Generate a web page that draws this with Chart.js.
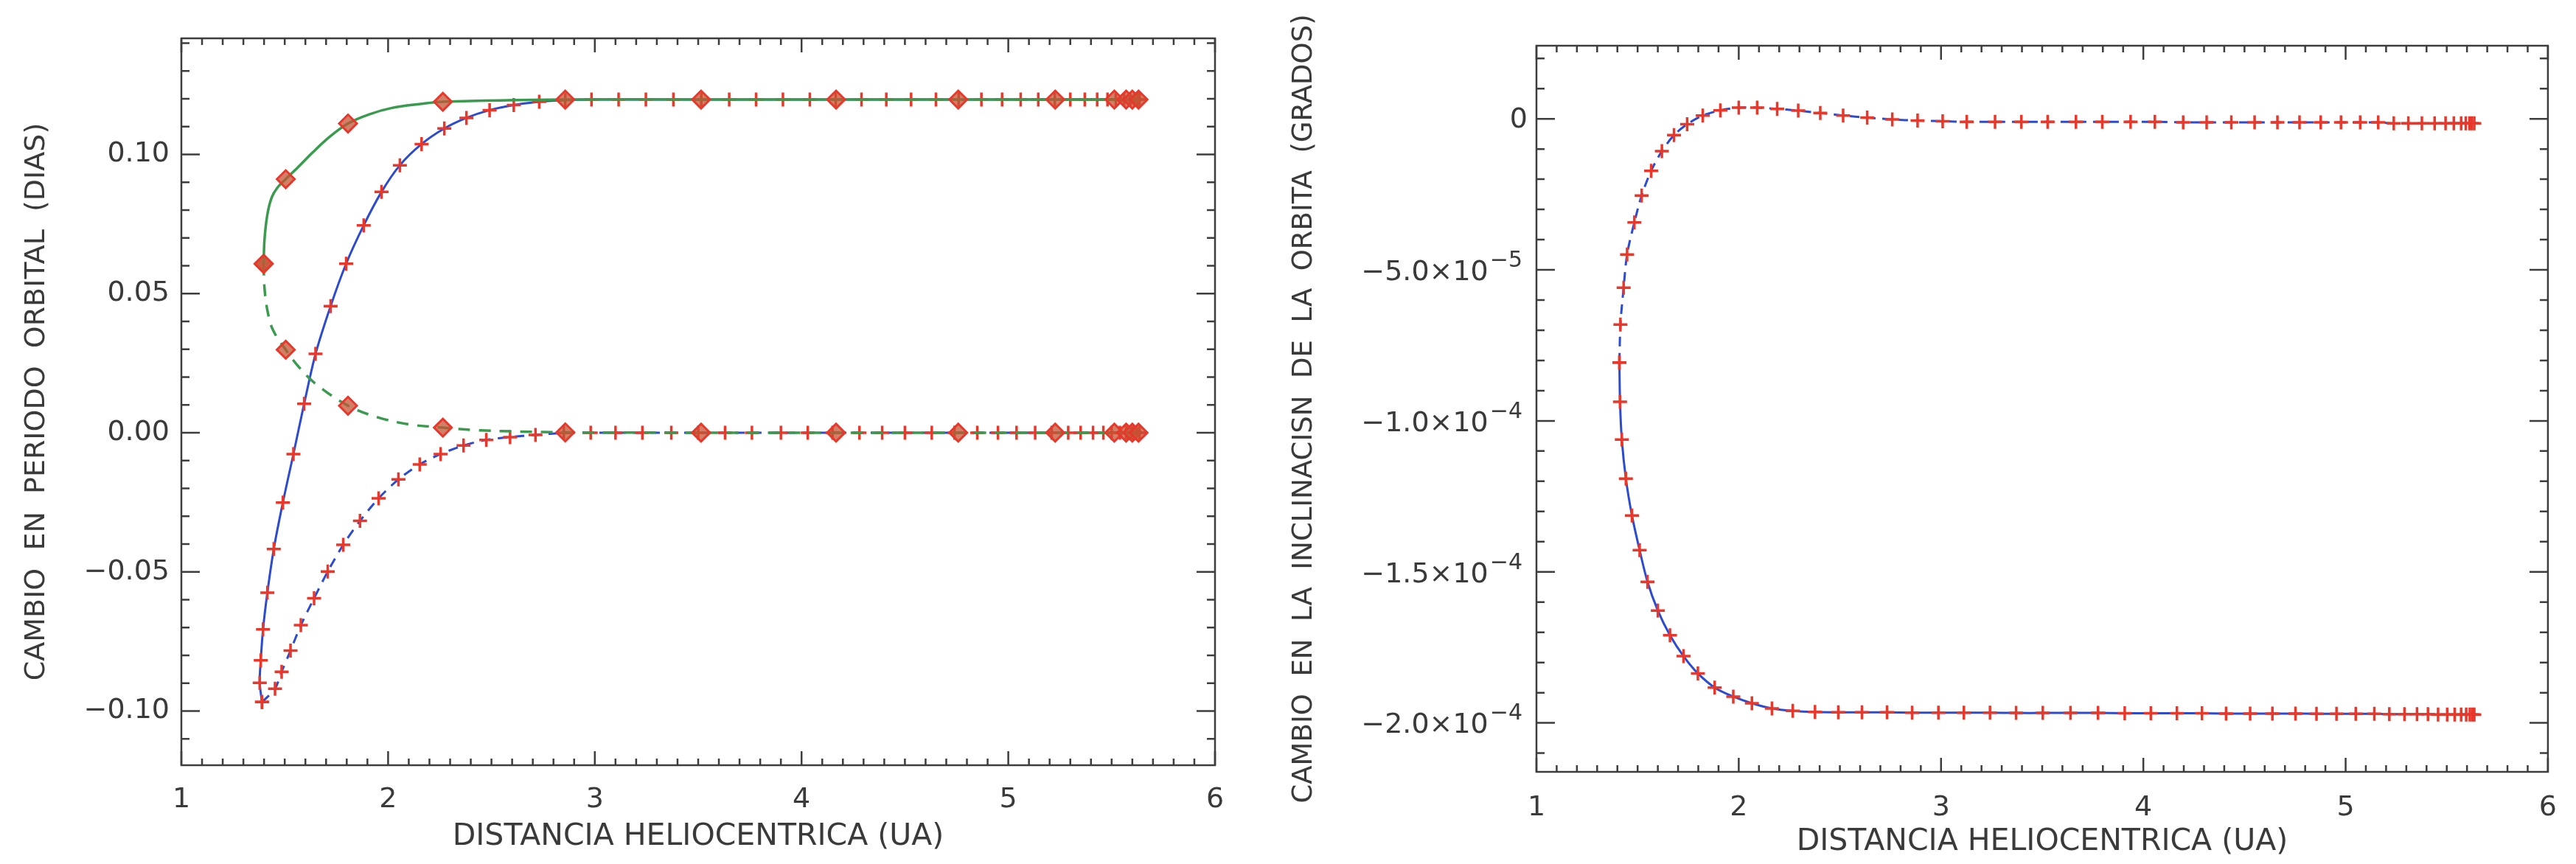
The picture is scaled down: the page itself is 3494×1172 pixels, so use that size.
<!DOCTYPE html>
<html>
<head>
<meta charset="utf-8">
<script src="https://cdn.jsdelivr.net/npm/chart.js@4.4.1/dist/chart.umd.min.js"></script>
<style>
  html, body { margin: 0; padding: 0; background: #fff; }
  body { width: 3494px; height: 1172px; position: relative; overflow: hidden; }
  canvas { position: absolute; top: 0; }
  #periodoChart { left: 0; }
  #inclChart { left: 1700px; }
</style>
</head>
<body>
<canvas id="periodoChart" width="1700" height="1172"></canvas>
<canvas id="inclChart" width="1794" height="1172"></canvas>
<script>
// ---- datos ----
var distTicks = [1, 2, 3, 4, 5, 6];
var periodoTicks = [-0.10, -0.05, 0.00, 0.05, 0.10];
var inclTicks = [-2.0e-4, -1.5e-4, -1.0e-4, -5.0e-5, 0];

// periodo: curva azul continua
var periodoSolX = [1.390, 1.379, 1.384, 1.395, 1.416, 1.447, 1.491, 1.542, 1.594, 1.649, 1.722, 1.797, 1.882, 1.968, 2.057, 2.162, 2.272, 2.379, 2.491, 2.608, 2.731, 2.857, 2.984, 3.115, 3.247, 3.380, 3.515, 3.650, 3.780, 3.910, 4.040, 4.165, 4.290, 4.410, 4.530, 4.650, 4.760, 4.870, 4.970, 5.060, 5.145, 5.225, 5.300, 5.370, 5.430, 5.480, 5.520, 5.560, 5.590, 5.610, 5.625, 5.635];
var periodoSolY = [-0.0968, -0.0899, -0.0818, -0.0707, -0.0575, -0.0418, -0.0251, -0.0077, 0.0104, 0.0283, 0.0455, 0.0607, 0.0745, 0.0865, 0.0961, 0.1037, 0.1093, 0.1131, 0.1159, 0.1177, 0.1189, 0.1195, 0.1197, 0.1197, 0.1197, 0.1197, 0.1197, 0.1197, 0.1197, 0.1197, 0.1197, 0.1197, 0.1197, 0.1197, 0.1197, 0.1197, 0.1197, 0.1197, 0.1197, 0.1197, 0.1197, 0.1197, 0.1197, 0.1197, 0.1197, 0.1197, 0.1197, 0.1197, 0.1197, 0.1197, 0.1197, 0.1197];

// periodo: curva azul discontinua
var periodoDisX = [1.390, 1.453, 1.485, 1.528, 1.578, 1.642, 1.708, 1.783, 1.864, 1.954, 2.050, 2.153, 2.254, 2.365, 2.475, 2.590, 2.713, 2.850, 2.980, 3.100, 3.230, 3.370, 3.500, 3.630, 3.760, 3.900, 4.030, 4.150, 4.280, 4.390, 4.500, 4.630, 4.740, 4.850, 4.950, 5.040, 5.130, 5.210, 5.290, 5.350, 5.410, 5.460, 5.500, 5.540, 5.570, 5.600, 5.620, 5.635];
var periodoDisY = [-0.0968, -0.0920, -0.0859, -0.0783, -0.0692, -0.0595, -0.0499, -0.0403, -0.0317, -0.0236, -0.0168, -0.0114, -0.0077, -0.0046, -0.0026, -0.0016, -0.0008, -0.0001, 0, 0, 0, 0, 0, 0, 0, 0, 0, 0, 0, 0, 0, 0, 0, 0, 0, 0, 0, 0, 0, 0, 0, 0, 0, 0, 0, 0, 0, 0];

// periodo: curvas verdes (rombos en diamanteX)
var verdeSupX = [1.398, 1.402, 1.416, 1.437, 1.464, 1.505, 1.567, 1.635, 1.717, 1.806, 1.909, 2.019, 2.156, 2.265, 2.857, 3.514, 4.167, 4.758, 5.227, 5.513, 5.570, 5.600, 5.630];
var verdeSupY = [0.0607, 0.0693, 0.0784, 0.0845, 0.0880, 0.0911, 0.0956, 0.1007, 0.1063, 0.1111, 0.1144, 0.1167, 0.1181, 0.1189, 0.1197, 0.1197, 0.1197, 0.1197, 0.1197, 0.1197, 0.1197, 0.1197, 0.1197];
var verdeInfX = [1.398, 1.402, 1.416, 1.443, 1.505, 1.567, 1.649, 1.806, 1.950, 2.101, 2.265, 2.429, 2.635, 2.857, 3.514, 4.167, 4.758, 5.227, 5.513, 5.570, 5.600, 5.630];
var verdeInfY = [0.0607, 0.0521, 0.0440, 0.0369, 0.0298, 0.0237, 0.0176, 0.0097, 0.0055, 0.0030, 0.0018, 0.0009, 0.0004, 0.0001, 0, 0, 0, 0, 0, 0, 0, 0];
var diamanteX = [1.398, 1.505, 1.806, 2.265, 2.857, 3.514, 4.167, 4.758, 5.227, 5.513, 5.570, 5.600, 5.630];

// inclinacion: rama superior (discontinua) y rama inferior (continua)
var inclSupX = [1.410, 1.415, 1.431, 1.448, 1.484, 1.520, 1.567, 1.620, 1.680, 1.745, 1.822, 1.909, 2.000, 2.091, 2.190, 2.294, 2.403, 2.516, 2.635, 2.759, 2.884, 3.008, 3.127, 3.267, 3.397, 3.527, 3.667, 3.797, 3.937, 4.057, 4.197, 4.313, 4.435, 4.550, 4.663, 4.772, 4.877, 4.977, 5.072, 5.161, 5.238, 5.310, 5.377, 5.440, 5.494, 5.535, 5.571, 5.594, 5.612, 5.624, 5.636];
var inclSupY = [-8.07e-5, -6.81e-5, -5.59e-5, -4.49e-5, -3.43e-5, -2.54e-5, -1.72e-5, -1.07e-5, -5.4e-6, -1.8e-6, 1.1e-6, 2.8e-6, 3.7e-6, 3.7e-6, 3.3e-6, 2.7e-6, 1.9e-6, 1.1e-6, 4e-7, -2e-7, -6e-7, -8e-7, -1.0e-6, -1.0e-6, -1.0e-6, -1.0e-6, -1.0e-6, -1.0e-6, -1.0e-6, -1.0e-6, -1.2e-6, -1.2e-6, -1.2e-6, -1.2e-6, -1.2e-6, -1.2e-6, -1.2e-6, -1.2e-6, -1.2e-6, -1.2e-6, -1.5e-6, -1.5e-6, -1.5e-6, -1.5e-6, -1.5e-6, -1.5e-6, -1.5e-6, -1.5e-6, -1.5e-6, -1.5e-6, -1.5e-6];
var inclInfX = [1.410, 1.413, 1.422, 1.442, 1.472, 1.510, 1.549, 1.600, 1.660, 1.727, 1.798, 1.881, 1.973, 2.065, 2.164, 2.267, 2.377, 2.492, 2.609, 2.733, 2.857, 2.987, 3.113, 3.242, 3.371, 3.503, 3.640, 3.776, 3.908, 4.037, 4.166, 4.290, 4.409, 4.528, 4.638, 4.752, 4.856, 4.955, 5.050, 5.142, 5.216, 5.291, 5.353, 5.407, 5.457, 5.502, 5.539, 5.571, 5.596, 5.614, 5.626, 5.636];
var inclInfY = [-8.07e-5, -9.37e-5, -1.062e-4, -1.191e-4, -1.313e-4, -1.428e-4, -1.533e-4, -1.628e-4, -1.710e-4, -1.779e-4, -1.836e-4, -1.883e-4, -1.913e-4, -1.935e-4, -1.952e-4, -1.960e-4, -1.964e-4, -1.965e-4, -1.965e-4, -1.965e-4, -1.966e-4, -1.966e-4, -1.966e-4, -1.966e-4, -1.967e-4, -1.967e-4, -1.967e-4, -1.967e-4, -1.968e-4, -1.968e-4, -1.968e-4, -1.968e-4, -1.969e-4, -1.969e-4, -1.969e-4, -1.969e-4, -1.970e-4, -1.970e-4, -1.970e-4, -1.970e-4, -1.971e-4, -1.971e-4, -1.971e-4, -1.971e-4, -1.972e-4, -1.972e-4, -1.972e-4, -1.972e-4, -1.972e-4, -1.972e-4, -1.972e-4, -1.972e-4];

// ---- estilo ----
var TXT = '#3a3a3a';
var AZUL = '#2c4bd1';
var VERDE = '#3a9a4e';
var ROJO = '#e8382c';
var FAMILIA = 'DejaVu Sans';
var fuenteTick = { family: FAMILIA, size: 38 };
var fuenteTituloX = { family: FAMILIA, size: 41 };

function pares(xs, ys) {
    return xs.map(function (x, i) { return { x: x, y: ys[i] }; });
}

// marco con marcas hacia dentro en los cuatro lados
var marco = {
    id: 'marco',
    afterDatasetsDraw: function (chart, args, opts) {
        var ctx = chart.ctx, a = chart.chartArea;
        var sx = chart.scales.x, sy = chart.scales.y;
        ctx.save();
        ctx.strokeStyle = '#3d3d3d';
        ctx.lineWidth = 2.5;
        ctx.strokeRect(a.left, a.top, a.right - a.left, a.bottom - a.top);
        ctx.beginPath();
        function valores(scale, step) {
            var out = [];
            for (var k = Math.ceil(scale.min / step - 1e-6); k * step <= scale.max + step * 1e-6; k++) out.push(k * step);
            return out;
        }
        function esMayor(scale, v, step) {
            return scale.ticks.some(function (t) { return Math.abs(t.value - v) < step / 10; });
        }
        valores(sx, opts.xMinor).forEach(function (v) {
            var px = sx.getPixelForValue(v);
            var len = esMayor(sx, v, opts.xMinor) ? 19 : 9;
            ctx.moveTo(px, a.bottom); ctx.lineTo(px, a.bottom - len);
            ctx.moveTo(px, a.top); ctx.lineTo(px, a.top + len);
        });
        valores(sy, opts.yMinor).forEach(function (v) {
            var py = sy.getPixelForValue(v);
            var len = esMayor(sy, v, opts.yMinor) ? 25 : 11;
            ctx.moveTo(a.left, py); ctx.lineTo(a.left + len, py);
            ctx.moveTo(a.right, py); ctx.lineTo(a.right - len, py);
        });
        ctx.stroke();
        ctx.restore();
    }
};

// etiquetas del eje y en notacion cientifica con exponente elevado
var etiquetasExp = {
    id: 'etiquetasExp',
    afterDraw: function (chart) {
        var ctx = chart.ctx, a = chart.chartArea, sy = chart.scales.y;
        ctx.save();
        ctx.fillStyle = TXT;
        ctx.textBaseline = 'middle';
        sy.ticks.forEach(function (t) {
            var py = sy.getPixelForValue(t.value);
            var v = t.value;
            if (Math.abs(v) < 1e-12) {
                ctx.font = '38px "' + FAMILIA + '"';
                ctx.textAlign = 'right';
                ctx.fillText('0', a.left - 12, py + 2);
                return;
            }
            var parts = v.toExponential(1).split('e');
            var mant = parts[0].replace('-', '\u2212') + '\u00D710';
            var exp = String(Number(parts[1])).replace('-', '\u2212');
            var xr = a.left - 19;
            ctx.font = '30px "' + FAMILIA + '"';
            ctx.textAlign = 'right';
            ctx.fillText(exp, xr, py - 12);
            var ew = ctx.measureText(exp).width;
            ctx.font = '38px "' + FAMILIA + '"';
            ctx.fillText(mant, xr - ew - 2, py + 4);
        });
        ctx.restore();
    }
};

function ejeX(altura, pad) {
    return {
        type: 'linear', min: 1, max: 6,
        afterBuildTicks: function (s) { s.ticks = distTicks.map(function (v) { return { value: v }; }); },
        afterFit: function (s) { s.height = altura; },
        grid: { display: false, drawTicks: false },
        border: { display: false },
        ticks: { font: fuenteTick, color: TXT, padding: pad, maxRotation: 0, autoSkip: false },
        title: { display: true, text: 'DISTANCIA HELIOCENTRICA (UA)', font: fuenteTituloX, color: TXT, padding: 0 }
    };
}

function lineaCruces(xs, ys, dash, orden) {
    return {
        data: pares(xs, ys),
        showLine: true,
        borderColor: AZUL,
        borderWidth: 3,
        borderDash: dash,
        tension: 0.3,
        pointStyle: 'cross',
        pointRadius: 9.5,
        pointBorderWidth: 3.5,
        pointBorderColor: ROJO,
        pointBackgroundColor: ROJO,
        order: orden
    };
}

function lineaVerde(xs, ys, dash) {
    return {
        data: pares(xs, ys),
        showLine: true,
        borderColor: VERDE,
        borderWidth: 3.5,
        borderDash: dash,
        tension: 0.35,
        pointStyle: 'rectRot',
        pointRadius: function (c) { return c.raw && diamanteX.indexOf(c.raw.x) >= 0 ? 12 : 0; },
        pointBorderWidth: 3,
        pointBorderColor: ROJO,
        pointBackgroundColor: 'rgba(196, 84, 52, 0.75)',
        order: 1
    };
}

var comunes = {
    responsive: false,
    animation: false,
    events: [],
    plugins: { legend: { display: false }, tooltip: { enabled: false } }
};

new Chart(document.getElementById('periodoChart'), {
    type: 'scatter',
    data: {
        datasets: [
            lineaCruces(periodoSolX, periodoSolY, [], 3),
            lineaCruces(periodoDisX, periodoDisY, [13, 10], 3),
            lineaVerde(verdeSupX, verdeSupY, []),
            lineaVerde(verdeInfX, verdeInfY, [16, 12])
        ]
    },
    options: Object.assign({}, comunes, {
        layout: { padding: { left: 27, right: 52, top: 52, bottom: 12 } },
        plugins: Object.assign({}, comunes.plugins, { marco: { xMinor: 0.1, yMinor: 0.01 } }),
        scales: {
            x: ejeX(122, 24),
            y: {
                type: 'linear', min: -0.1195, max: 0.1417,
                afterBuildTicks: function (s) { s.ticks = periodoTicks.map(function (v) { return { value: v }; }); },
                afterFit: function (s) { s.width = 219; },
                grid: { display: false, drawTicks: false },
                border: { display: false },
                ticks: {
                    font: fuenteTick, color: TXT, padding: 16,
                    callback: function (v) { return (v < 0 ? '\u2212' : '') + Math.abs(v).toFixed(2); }
                },
                title: { display: true, text: 'CAMBIO  EN  PERIODO  ORBITAL  (DIAS)', font: { family: FAMILIA, size: 38 }, color: TXT, padding: 0 }
            }
        }
    }),
    plugins: [marco]
});

new Chart(document.getElementById('inclChart'), {
    type: 'scatter',
    data: {
        datasets: [
            lineaCruces(inclSupX, inclSupY, [13, 9], 2),
            lineaCruces(inclInfX, inclInfY, [], 2)
        ]
    },
    options: Object.assign({}, comunes, {
        layout: { padding: { left: 47, right: 5, top: 62, bottom: 5 } },
        plugins: Object.assign({}, comunes.plugins, { marco: { xMinor: 0.1, yMinor: 1e-5 } }),
        scales: {
            x: ejeX(120, 26),
            y: {
                type: 'linear', min: -2.162e-4, max: 2.42e-5,
                afterBuildTicks: function (s) { s.ticks = inclTicks.map(function (v) { return { value: v }; }); },
                afterFit: function (s) { s.width = 337; },
                grid: { display: false, drawTicks: false },
                border: { display: false },
                ticks: { display: false },
                title: { display: true, text: 'CAMBIO  EN  LA  INCLINACISN  DE  LA  ORBITA  (GRADOS)', font: { family: FAMILIA, size: 37 }, color: TXT, padding: 0 }
            }
        }
    }),
    plugins: [marco, etiquetasExp]
});
</script>
</body>
</html>
